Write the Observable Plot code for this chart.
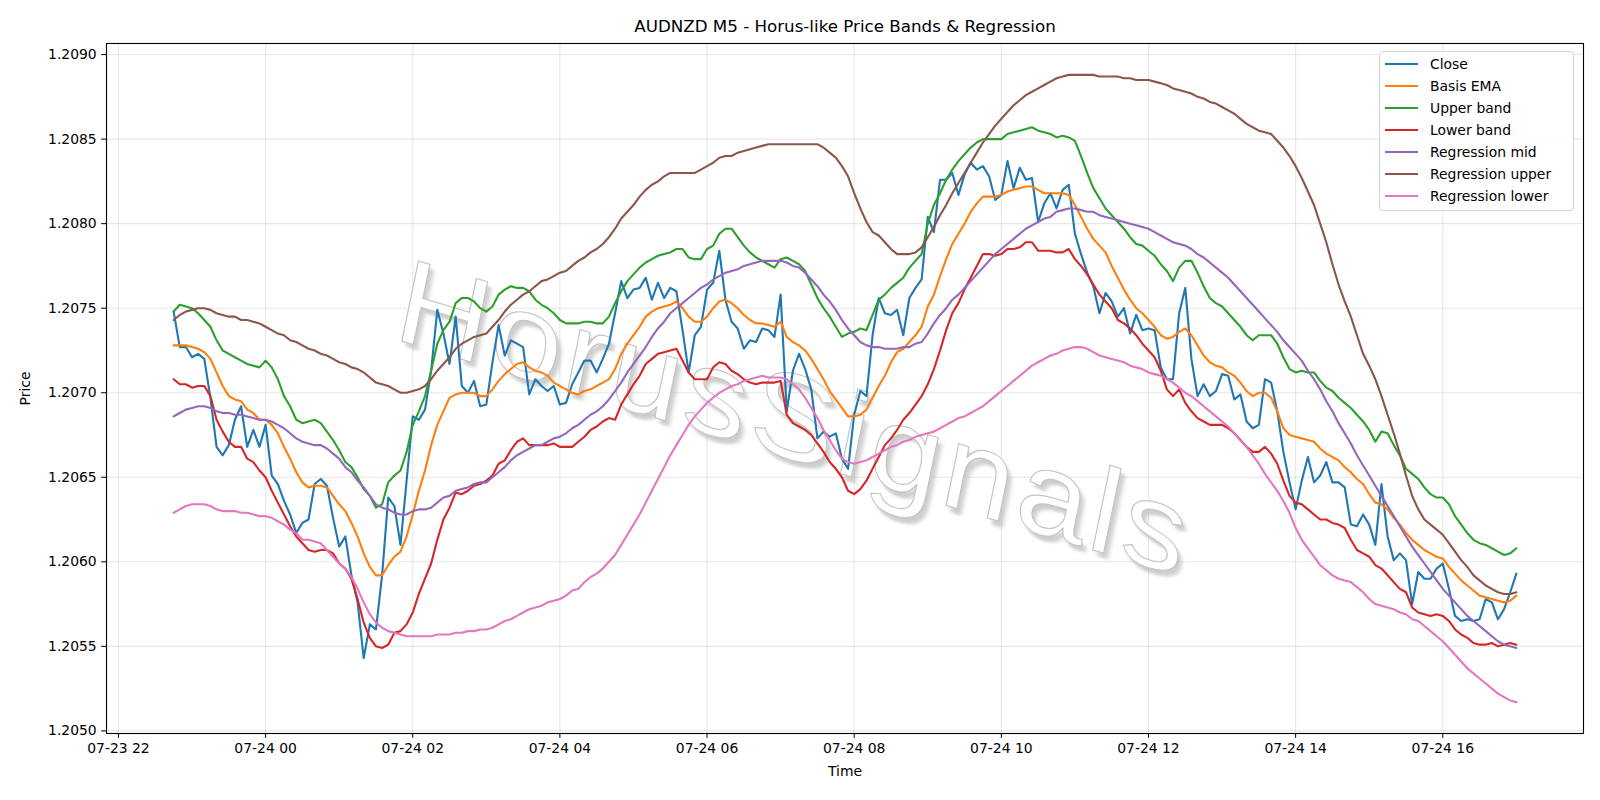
<!DOCTYPE html>
<html>
<head>
<meta charset="utf-8">
<script src="https://cdn.jsdelivr.net/npm/d3@7"></script>
<script src="https://cdn.jsdelivr.net/npm/@observablehq/plot@0.6"></script>
<style>
  body { margin: 0; background: #fff; }
  #wrap { position: relative; width: 1600px; height: 800px; font-family: "DejaVu Sans", sans-serif; }
  #legend { position: absolute; left: 1379px; top: 51px; width: 195px; height: 160px;
    border: 1.1px solid #d3d3d3; border-radius: 4px; background: rgba(255,255,255,0.85);
    box-sizing: border-box; padding-top: 1px; padding-left: 5px;
    font-family: "DejaVu Sans", sans-serif; font-size: 13.9px; color: #000; }
  #legend .row { height: 22px; display: flex; align-items: center; white-space: nowrap; }
  #legend .row svg { margin-right: 12px; flex: none; }
</style>
</head>
<body>
<div id="wrap"><div id="legend"></div></div>
<script>
// ---- data (AUDNZD M5, 5-minute bars from 07-23 22:45 to 07-24 17:00) ----
const startTime = "2025-07-23T22:45:00Z";
const stepMinutes = 5;

const close = [
1.20748,1.20727,1.20727,1.20721,1.20723,1.20720,1.20697,1.20668,1.20663,1.20669,
1.20684,1.20692,1.20668,1.20678,1.20668,1.20681,1.20651,1.20646,1.20636,1.20628,
1.20617,1.20623,1.20625,1.20646,1.20649,1.20645,1.20626,1.20609,1.20615,1.20592,
1.20576,1.20543,1.20563,1.20560,1.20592,1.20638,1.20633,1.20610,1.20648,1.20686,
1.20684,1.20690,1.20713,1.20749,1.20735,1.20717,1.20745,1.20704,1.20700,1.20707,
1.20692,1.20693,1.20718,1.20740,1.20722,1.20731,1.20729,1.20727,1.20699,1.20708,
1.20704,1.20701,1.20704,1.20693,1.20694,1.20705,1.20712,1.20719,1.20719,1.20712,
1.20720,1.20729,1.20747,1.20766,1.20756,1.20761,1.20762,1.20768,1.20755,1.20765,
1.20756,1.20762,1.20760,1.20737,1.20712,1.20734,1.20739,1.20761,1.20765,1.20784,
1.20755,1.20742,1.20738,1.20726,1.20731,1.20730,1.20738,1.20737,1.20733,1.20758,
1.20689,1.20713,1.20723,1.20714,1.20702,1.20673,1.20677,1.20674,1.20676,1.20661,
1.20655,1.20687,1.20701,1.20698,1.20734,1.20756,1.20747,1.20746,1.20749,1.20734,
1.20756,1.20762,1.20767,1.20804,1.20795,1.20826,1.20826,1.20830,1.20817,1.20829,
1.20836,1.20832,1.20834,1.20828,1.20814,1.20817,1.20837,1.20821,1.20833,1.20826,
1.20827,1.20801,1.20812,1.20818,1.20809,1.20820,1.20823,1.20794,1.20782,1.20771,
1.20763,1.20747,1.20759,1.20754,1.20745,1.20750,1.20735,1.20746,1.20737,1.20738,
1.20737,1.20715,1.20708,1.20708,1.20747,1.20762,1.20720,1.20698,1.20705,1.20698,
1.20701,1.20711,1.20710,1.20696,1.20699,1.20683,1.20679,1.20681,1.20708,1.20706,
1.20689,1.20665,1.20647,1.20631,1.20648,1.20662,1.20647,1.20651,1.20659,1.20647,
1.20647,1.20644,1.20622,1.20621,1.20628,1.20622,1.20610,1.20646,1.20615,1.20601,
1.20605,1.20601,1.20575,1.20594,1.20590,1.20590,1.20596,1.20599,1.20584,1.20568,
1.20565,1.20566,1.20565,1.20566,1.20578,1.20576,1.20566,1.20572,1.20582,1.20593];

const basisEma = [
1.20728,1.20728,1.20728,1.20727,1.20726,1.20724,1.20720,1.20712,1.20704,1.20698,
1.20696,1.20695,1.20690,1.20688,1.20684,1.20684,1.20681,1.20676,1.20668,1.20661,
1.20653,1.20647,1.20644,1.20645,1.20645,1.20644,1.20639,1.20634,1.20630,1.20623,
1.20615,1.20605,1.20597,1.20592,1.20592,1.20598,1.20603,1.20606,1.20615,1.20628,
1.20642,1.20654,1.20669,1.20681,1.20689,1.20697,1.20699,1.20700,1.20700,1.20700,
1.20698,1.20698,1.20702,1.20707,1.20711,1.20714,1.20717,1.20718,1.20715,1.20713,
1.20712,1.20710,1.20706,1.20704,1.20702,1.20700,1.20699,1.20701,1.20702,1.20704,
1.20706,1.20708,1.20714,1.20723,1.20729,1.20734,1.20739,1.20745,1.20748,1.20750,
1.20751,1.20752,1.20754,1.20750,1.20745,1.20742,1.20742,1.20745,1.20750,1.20754,
1.20755,1.20753,1.20750,1.20746,1.20743,1.20741,1.20741,1.20740,1.20739,1.20742,
1.20733,1.20730,1.20728,1.20725,1.20720,1.20714,1.20708,1.20701,1.20696,1.20691,
1.20686,1.20686,1.20687,1.20690,1.20697,1.20704,1.20710,1.20718,1.20724,1.20726,
1.20730,1.20734,1.20739,1.20751,1.20758,1.20769,1.20779,1.20788,1.20794,1.20800,
1.20807,1.20812,1.20816,1.20816,1.20816,1.20817,1.20819,1.20820,1.20821,1.20822,
1.20822,1.20820,1.20818,1.20818,1.20818,1.20818,1.20817,1.20811,1.20804,1.20797,
1.20791,1.20787,1.20783,1.20775,1.20768,1.20761,1.20755,1.20750,1.20747,1.20743,
1.20739,1.20734,1.20732,1.20733,1.20736,1.20738,1.20734,1.20728,1.20722,1.20718,
1.20716,1.20715,1.20712,1.20710,1.20706,1.20701,1.20698,1.20700,1.20700,1.20697,
1.20689,1.20679,1.20675,1.20674,1.20673,1.20672,1.20671,1.20667,1.20664,1.20662,
1.20660,1.20656,1.20653,1.20649,1.20646,1.20640,1.20635,1.20634,1.20631,1.20626,
1.20622,1.20617,1.20613,1.20610,1.20607,1.20605,1.20603,1.20602,1.20597,1.20593,
1.20589,1.20586,1.20583,1.20580,1.20579,1.20578,1.20577,1.20576,1.20577,1.20580];

const upperBand = [
1.20748,1.20752,1.20751,1.20750,1.20747,1.20743,1.20739,1.20731,1.20725,1.20723,
1.20721,1.20719,1.20717,1.20716,1.20715,1.20719,1.20715,1.20708,1.20698,1.20692,
1.20684,1.20682,1.20683,1.20684,1.20682,1.20677,1.20672,1.20666,1.20659,1.20656,
1.20650,1.20643,1.20639,1.20632,1.20634,1.20647,1.20651,1.20654,1.20665,1.20681,
1.20689,1.20698,1.20713,1.20729,1.20737,1.20742,1.20753,1.20756,1.20756,1.20754,
1.20750,1.20748,1.20751,1.20758,1.20761,1.20763,1.20762,1.20762,1.20760,1.20755,
1.20752,1.20750,1.20747,1.20743,1.20741,1.20741,1.20741,1.20742,1.20742,1.20741,
1.20741,1.20745,1.20753,1.20760,1.20766,1.20770,1.20774,1.20777,1.20779,1.20781,
1.20782,1.20783,1.20785,1.20785,1.20780,1.20779,1.20779,1.20785,1.20787,1.20794,
1.20797,1.20797,1.20792,1.20787,1.20783,1.20780,1.20778,1.20776,1.20774,1.20779,
1.20780,1.20778,1.20776,1.20772,1.20764,1.20756,1.20750,1.20745,1.20739,1.20733,
1.20735,1.20736,1.20738,1.20737,1.20746,1.20755,1.20758,1.20762,1.20765,1.20768,
1.20774,1.20778,1.20782,1.20800,1.20811,1.20818,1.20826,1.20832,1.20837,1.20841,
1.20845,1.20848,1.20850,1.20850,1.20850,1.20850,1.20853,1.20854,1.20855,1.20856,
1.20857,1.20855,1.20854,1.20853,1.20851,1.20852,1.20851,1.20849,1.20840,1.20830,
1.20821,1.20815,1.20809,1.20805,1.20801,1.20797,1.20792,1.20788,1.20787,1.20784,
1.20781,1.20776,1.20772,1.20766,1.20774,1.20778,1.20778,1.20771,1.20763,1.20756,
1.20753,1.20751,1.20747,1.20743,1.20739,1.20734,1.20731,1.20734,1.20734,1.20734,
1.20729,1.20721,1.20714,1.20712,1.20713,1.20712,1.20712,1.20707,1.20703,1.20701,
1.20697,1.20694,1.20691,1.20687,1.20683,1.20678,1.20671,1.20677,1.20676,1.20669,
1.20663,1.20655,1.20652,1.20649,1.20644,1.20640,1.20638,1.20638,1.20634,1.20627,
1.20622,1.20617,1.20613,1.20611,1.20610,1.20608,1.20606,1.20604,1.20605,1.20608];

const lowerBand = [
1.20708,1.20705,1.20705,1.20703,1.20704,1.20704,1.20698,1.20684,1.20677,1.20671,
1.20668,1.20668,1.20661,1.20659,1.20654,1.20650,1.20642,1.20635,1.20628,1.20621,
1.20615,1.20611,1.20607,1.20606,1.20607,1.20607,1.20605,1.20599,1.20596,1.20590,
1.20578,1.20564,1.20555,1.20550,1.20549,1.20551,1.20558,1.20559,1.20563,1.20570,
1.20581,1.20590,1.20599,1.20613,1.20625,1.20632,1.20641,1.20640,1.20642,1.20645,
1.20646,1.20648,1.20651,1.20658,1.20660,1.20666,1.20671,1.20673,1.20669,1.20669,
1.20669,1.20669,1.20670,1.20668,1.20668,1.20668,1.20671,1.20674,1.20678,1.20680,
1.20683,1.20685,1.20684,1.20693,1.20699,1.20705,1.20710,1.20717,1.20720,1.20723,
1.20724,1.20725,1.20726,1.20719,1.20712,1.20708,1.20708,1.20708,1.20715,1.20718,
1.20717,1.20713,1.20711,1.20708,1.20706,1.20705,1.20706,1.20706,1.20706,1.20707,
1.20687,1.20682,1.20680,1.20678,1.20675,1.20670,1.20665,1.20659,1.20655,1.20650,
1.20642,1.20640,1.20643,1.20648,1.20655,1.20662,1.20669,1.20673,1.20678,1.20684,
1.20688,1.20693,1.20698,1.20705,1.20714,1.20725,1.20737,1.20747,1.20753,1.20761,
1.20768,1.20775,1.20782,1.20782,1.20781,1.20782,1.20785,1.20785,1.20786,1.20789,
1.20789,1.20784,1.20784,1.20784,1.20783,1.20783,1.20785,1.20779,1.20775,1.20770,
1.20764,1.20758,1.20754,1.20750,1.20743,1.20741,1.20738,1.20734,1.20729,1.20725,
1.20721,1.20713,1.20702,1.20698,1.20702,1.20694,1.20689,1.20685,1.20683,1.20681,
1.20681,1.20681,1.20679,1.20676,1.20672,1.20668,1.20665,1.20665,1.20668,1.20664,
1.20658,1.20648,1.20639,1.20635,1.20634,1.20631,1.20628,1.20625,1.20625,1.20623,
1.20622,1.20620,1.20613,1.20607,1.20605,1.20603,1.20598,1.20596,1.20592,1.20588,
1.20584,1.20582,1.20573,1.20570,1.20569,1.20568,1.20569,1.20568,1.20565,1.20560,
1.20557,1.20555,1.20552,1.20551,1.20551,1.20552,1.20550,1.20551,1.20552,1.20551];

const regressionMid = [
1.20686,1.20688,1.20690,1.20691,1.20692,1.20692,1.20691,1.20689,1.20688,1.20688,
1.20687,1.20687,1.20686,1.20685,1.20684,1.20684,1.20683,1.20681,1.20679,1.20676,
1.20673,1.20671,1.20670,1.20669,1.20669,1.20667,1.20664,1.20661,1.20656,1.20653,
1.20648,1.20644,1.20639,1.20634,1.20632,1.20631,1.20629,1.20628,1.20628,1.20630,
1.20631,1.20631,1.20632,1.20635,1.20638,1.20639,1.20642,1.20643,1.20644,1.20646,
1.20647,1.20647,1.20650,1.20653,1.20656,1.20660,1.20663,1.20665,1.20667,1.20669,
1.20669,1.20671,1.20673,1.20674,1.20676,1.20679,1.20681,1.20684,1.20687,1.20689,
1.20692,1.20696,1.20701,1.20706,1.20712,1.20717,1.20722,1.20727,1.20733,1.20738,
1.20742,1.20747,1.20750,1.20753,1.20756,1.20759,1.20762,1.20764,1.20767,1.20769,
1.20771,1.20772,1.20773,1.20775,1.20776,1.20777,1.20778,1.20778,1.20778,1.20778,
1.20777,1.20775,1.20774,1.20771,1.20767,1.20763,1.20758,1.20754,1.20749,1.20743,
1.20738,1.20734,1.20730,1.20728,1.20727,1.20727,1.20726,1.20726,1.20726,1.20727,
1.20727,1.20729,1.20730,1.20735,1.20741,1.20746,1.20750,1.20755,1.20758,1.20762,
1.20766,1.20770,1.20774,1.20778,1.20782,1.20785,1.20788,1.20791,1.20794,1.20797,
1.20799,1.20801,1.20803,1.20804,1.20807,1.20808,1.20809,1.20809,1.20808,1.20807,
1.20807,1.20805,1.20804,1.20803,1.20802,1.20801,1.20800,1.20799,1.20798,1.20797,
1.20795,1.20793,1.20791,1.20789,1.20788,1.20787,1.20785,1.20782,1.20780,1.20777,
1.20774,1.20771,1.20768,1.20764,1.20760,1.20756,1.20752,1.20748,1.20744,1.20740,
1.20736,1.20731,1.20727,1.20723,1.20719,1.20713,1.20708,1.20702,1.20695,1.20689,
1.20682,1.20676,1.20670,1.20663,1.20657,1.20651,1.20645,1.20639,1.20633,1.20627,
1.20621,1.20615,1.20609,1.20604,1.20599,1.20594,1.20589,1.20584,1.20580,1.20576,
1.20572,1.20568,1.20565,1.20562,1.20559,1.20556,1.20553,1.20551,1.20550,1.20549];

const regressionUpper = [
1.20743,1.20746,1.20748,1.20749,1.20750,1.20750,1.20749,1.20747,1.20746,1.20745,
1.20745,1.20743,1.20743,1.20742,1.20741,1.20739,1.20737,1.20735,1.20734,1.20731,
1.20730,1.20728,1.20726,1.20725,1.20723,1.20722,1.20720,1.20718,1.20717,1.20715,
1.20714,1.20712,1.20709,1.20706,1.20705,1.20704,1.20702,1.20700,1.20700,1.20701,
1.20702,1.20704,1.20708,1.20713,1.20717,1.20721,1.20726,1.20729,1.20731,1.20733,
1.20734,1.20735,1.20739,1.20743,1.20748,1.20752,1.20755,1.20758,1.20760,1.20763,
1.20766,1.20767,1.20769,1.20771,1.20772,1.20775,1.20778,1.20780,1.20783,1.20785,
1.20788,1.20792,1.20797,1.20803,1.20807,1.20811,1.20816,1.20820,1.20823,1.20825,
1.20828,1.20830,1.20830,1.20830,1.20830,1.20830,1.20832,1.20834,1.20836,1.20839,
1.20840,1.20840,1.20842,1.20843,1.20844,1.20845,1.20846,1.20847,1.20847,1.20847,
1.20847,1.20847,1.20847,1.20847,1.20847,1.20847,1.20845,1.20842,1.20839,1.20834,
1.20828,1.20818,1.20809,1.20801,1.20795,1.20793,1.20789,1.20785,1.20782,1.20782,
1.20782,1.20783,1.20786,1.20792,1.20798,1.20805,1.20811,1.20818,1.20824,1.20830,
1.20836,1.20842,1.20848,1.20853,1.20858,1.20862,1.20866,1.20870,1.20873,1.20876,
1.20878,1.20880,1.20882,1.20884,1.20886,1.20887,1.20888,1.20888,1.20888,1.20888,
1.20888,1.20887,1.20887,1.20887,1.20887,1.20886,1.20886,1.20885,1.20885,1.20885,
1.20884,1.20883,1.20882,1.20880,1.20879,1.20878,1.20877,1.20875,1.20874,1.20872,
1.20871,1.20869,1.20867,1.20865,1.20862,1.20859,1.20857,1.20855,1.20854,1.20853,
1.20849,1.20845,1.20840,1.20834,1.20827,1.20819,1.20811,1.20800,1.20789,1.20776,
1.20764,1.20754,1.20745,1.20734,1.20723,1.20716,1.20708,1.20698,1.20687,1.20676,
1.20664,1.20651,1.20639,1.20631,1.20625,1.20622,1.20619,1.20616,1.20611,1.20606,
1.20601,1.20597,1.20592,1.20589,1.20586,1.20584,1.20582,1.20581,1.20581,1.20582];

const regressionLower = [
1.20629,1.20631,1.20633,1.20634,1.20634,1.20634,1.20633,1.20631,1.20630,1.20630,
1.20630,1.20629,1.20629,1.20628,1.20627,1.20627,1.20626,1.20624,1.20622,1.20619,
1.20617,1.20613,1.20613,1.20612,1.20611,1.20607,1.20603,1.20599,1.20596,1.20591,
1.20584,1.20576,1.20569,1.20564,1.20561,1.20559,1.20558,1.20557,1.20556,1.20556,
1.20556,1.20556,1.20556,1.20557,1.20557,1.20557,1.20558,1.20558,1.20559,1.20559,
1.20560,1.20560,1.20561,1.20563,1.20565,1.20566,1.20568,1.20570,1.20572,1.20573,
1.20574,1.20576,1.20577,1.20578,1.20580,1.20583,1.20584,1.20588,1.20591,1.20593,
1.20596,1.20600,1.20604,1.20610,1.20616,1.20622,1.20628,1.20635,1.20642,1.20649,
1.20656,1.20663,1.20669,1.20675,1.20681,1.20686,1.20690,1.20694,1.20697,1.20700,
1.20702,1.20704,1.20705,1.20707,1.20708,1.20709,1.20710,1.20709,1.20709,1.20709,
1.20708,1.20705,1.20702,1.20697,1.20691,1.20685,1.20678,1.20672,1.20666,1.20661,
1.20659,1.20658,1.20659,1.20660,1.20662,1.20664,1.20666,1.20668,1.20669,1.20671,
1.20672,1.20674,1.20675,1.20676,1.20677,1.20679,1.20681,1.20683,1.20685,1.20686,
1.20688,1.20690,1.20692,1.20695,1.20698,1.20701,1.20704,1.20707,1.20710,1.20713,
1.20716,1.20718,1.20720,1.20722,1.20723,1.20725,1.20726,1.20727,1.20727,1.20726,
1.20724,1.20722,1.20721,1.20720,1.20719,1.20718,1.20716,1.20715,1.20714,1.20712,
1.20711,1.20710,1.20708,1.20706,1.20703,1.20700,1.20698,1.20695,1.20692,1.20689,
1.20686,1.20683,1.20680,1.20676,1.20672,1.20668,1.20663,1.20658,1.20652,1.20647,
1.20642,1.20636,1.20629,1.20620,1.20613,1.20608,1.20603,1.20598,1.20595,1.20592,
1.20590,1.20589,1.20588,1.20585,1.20582,1.20578,1.20575,1.20574,1.20573,1.20572,
1.20570,1.20569,1.20566,1.20565,1.20562,1.20559,1.20556,1.20553,1.20549,1.20545,
1.20541,1.20537,1.20534,1.20531,1.20528,1.20525,1.20522,1.20520,1.20518,1.20517];

const seriesNames = ["Close", "Basis EMA", "Upper band", "Lower band", "Regression mid", "Regression upper", "Regression lower"];
const seriesColors = ["#1f77b4", "#ff7f0e", "#2ca02c", "#d62728", "#9467bd", "#8c564b", "#e377c2"];
const seriesValues = [close, basisEma, upperBand, lowerBand, regressionMid, regressionUpper, regressionLower];

const xTickLabels = ["2025-07-23T22:00:00Z", "2025-07-24T00:00:00Z", "2025-07-24T02:00:00Z", "2025-07-24T04:00:00Z",
  "2025-07-24T06:00:00Z", "2025-07-24T08:00:00Z", "2025-07-24T10:00:00Z", "2025-07-24T12:00:00Z",
  "2025-07-24T14:00:00Z", "2025-07-24T16:00:00Z"];
const yTicks = [1.2050, 1.2055, 1.2060, 1.2065, 1.2070, 1.2075, 1.2080, 1.2085, 1.2090];

const titleText = "AUDNZD M5 - Horus-like Price Bands & Regression";
const xLabel = "Time";
const yLabel = "Price";
const watermarkText = "HorusSignals";

// ---- build table ----
const t0 = Date.parse(startTime);
const times = close.map((_, i) => new Date(t0 + i * stepMinutes * 60000));
const rows = seriesNames.flatMap((name, s) => seriesValues[s].map((v, i) => ({time: times[i], price: v, series: name})));
const xTicks = xTickLabels.map(d => new Date(d));

// matplotlib-like 5% margins
const tMin = +times[0], tMax = +times[times.length - 1];
const tPad = (tMax - tMin) * 0.05;
const allVals = seriesValues.flat();
const vMin = d3.min(allVals), vMax = d3.max(allVals);
const vPad = (vMax - vMin) * 0.05;

const fmtX = d3.utcFormat("%m-%d %H");

const chart = Plot.plot({
  width: 1600,
  height: 800,
  marginLeft: 106,
  marginRight: 17,
  marginTop: 43,
  marginBottom: 67,
  style: {fontFamily: '"DejaVu Sans", sans-serif', fontSize: "13.9px", color: "#000", background: "#fff"},
  x: {type: "utc", domain: [new Date(tMin - tPad), new Date(tMax + tPad)]},
  y: {domain: [vMin - vPad, vMax + vPad]},
  color: {domain: seriesNames, range: seriesColors},
  marks: [
    Plot.gridX({ticks: xTicks, stroke: "#b0b0b0", strokeOpacity: 0.3, strokeWidth: 1.1}),
    Plot.gridY({ticks: yTicks, stroke: "#b0b0b0", strokeOpacity: 0.3, strokeWidth: 1.1}),
    Plot.line(rows, {x: "time", y: "price", z: "series", stroke: "series", strokeWidth: 2.1}),
    Plot.frame({stroke: "#000", strokeWidth: 1.1}),
    Plot.axisX({ticks: xTicks, tickFormat: fmtX, tickSize: 4.9, tickPadding: 4.9, label: null, fontSize: 13.9}),
    Plot.axisY({ticks: yTicks, tickFormat: d3.format(".4f"), tickSize: 4.9, tickPadding: 4.9, label: null, fontSize: 13.9}),
    Plot.text([xLabel], {frameAnchor: "bottom", dy: 38, lineAnchor: "middle", textAnchor: "middle", fontSize: 13.9}),
    Plot.text([yLabel], {frameAnchor: "left", dx: -81, rotate: -90, lineAnchor: "middle", textAnchor: "middle", fontSize: 13.9}),
    Plot.text([titleText], {frameAnchor: "top", dy: -17, lineAnchor: "middle", textAnchor: "middle", fontSize: 16.7})
  ]
});

const wrap = document.getElementById("wrap");
wrap.insertBefore(chart, wrap.firstChild);

// watermark (skewed italic outline text with soft shadow), drawn beneath the lines
const ns = "http://www.w3.org/2000/svg";
const defs = document.createElementNS(ns, "defs");
defs.innerHTML = '<filter id="wmblur" x="-5%" y="-20%" width="110%" height="140%"><feGaussianBlur stdDeviation="1.8"/></filter>';
chart.insertBefore(defs, chart.firstChild);
const wm = document.createElementNS(ns, "g");
wm.setAttribute("transform", "translate(398,340) skewY(16.8)");
wm.setAttribute("font-family", '"Liberation Sans", Arial, sans-serif');
wm.setAttribute("font-style", "italic");
wm.setAttribute("font-size", "124");
wm.setAttribute("letter-spacing", "4.5");
wm.setAttribute("text-anchor", "start");
const shadow = document.createElementNS(ns, "text");
shadow.setAttribute("x", 4); shadow.setAttribute("y", 5);
shadow.setAttribute("text-anchor", "start");
shadow.setAttribute("fill", "#b8b8b8"); shadow.setAttribute("fill-opacity", "0.7");
shadow.setAttribute("filter", "url(#wmblur)");
shadow.textContent = watermarkText;
const face = document.createElementNS(ns, "text");
face.setAttribute("x", 0); face.setAttribute("y", 0);
face.setAttribute("text-anchor", "start");
face.setAttribute("fill", "#ffffff"); face.setAttribute("stroke", "#c4c4c4"); face.setAttribute("stroke-width", "1.1");
face.textContent = watermarkText;
wm.appendChild(shadow); wm.appendChild(face);
const lineGroup = chart.querySelector('g[aria-label="line"]');
chart.insertBefore(wm, lineGroup);

// legend
const legend = document.getElementById("legend");
seriesNames.forEach((name, s) => {
  const row = document.createElement("div");
  row.className = "row";
  row.innerHTML = `<svg width="33" height="8"><line x1="0" x2="33" y1="4" y2="4" stroke="${seriesColors[s]}" stroke-width="2.1"/></svg><span>${name}</span>`;
  legend.appendChild(row);
});
</script>
</body>
</html>
